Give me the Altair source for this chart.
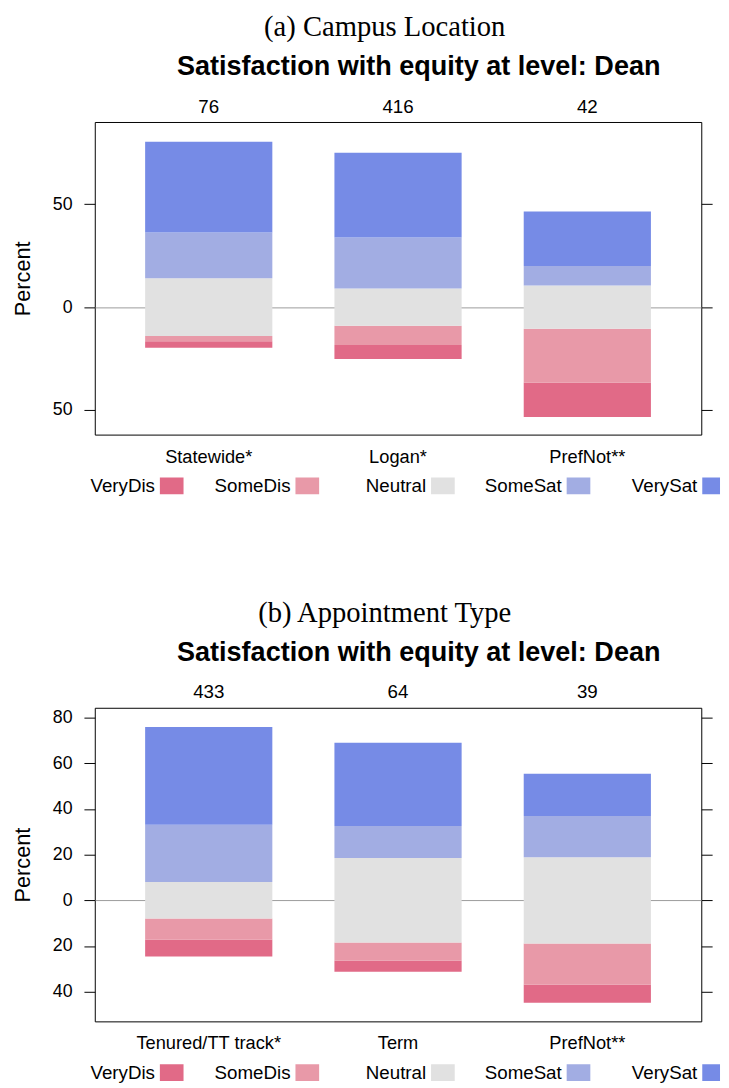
import altair as alt
import pandas as pd

levels = ["VeryDis", "SomeDis", "Neutral", "SomeSat", "VerySat"]
level_colors = ["#E16A87", "#E899A8", "#E1E1E1", "#A2ADE3", "#768BE6"]

main_title = "Satisfaction with equity at level: Dean"

# Panel (a): campus location
campus_groups = ["Statewide*", "Logan*", "PrefNot**"]
campus_n = [76, 416, 42]
campus_verydis = [3.2, 6.8, 16.7]
campus_somedis = [2.6, 9.3, 26.2]
campus_neutral = [28.0, 18.2, 21.0]
campus_somesat = [22.3, 24.8, 9.5]
campus_verysat = [44.1, 41.2, 26.5]
campus_yticks = [-50, 0, 50]
campus_ydomain = [-62, 90]

# Panel (b): appointment type
appt_groups = ["Tenured/TT track*", "Term", "PrefNot**"]
appt_n = [433, 64, 39]
appt_verydis = [7.4, 5.0, 7.9]
appt_somedis = [9.2, 7.8, 18.0]
appt_neutral = [16.0, 37.0, 37.8]
appt_somesat = [25.1, 14.0, 18.0]
appt_verysat = [42.8, 36.5, 18.5]
appt_yticks = [-40, -20, 0, 20, 40, 60, 80]
appt_ydomain = [-53, 84.3]

SANS = "Liberation Sans"
SERIF = "Liberation Serif"


def make_panel(letter_title, groups, ns, series, yticks, ydomain, height):
    rows = []
    for i, g in enumerate(groups):
        seg = [s[i] for s in series]
        start = -(seg[0] + seg[1] + seg[2] / 2.0)
        for lev, v in zip(levels, seg):
            rows.append({"group": g, "level": lev, "lo": start, "hi": start + v})
            start += v
    df = pd.DataFrame(rows)

    xscale = alt.Scale(domain=groups, paddingInner=0.328, paddingOuter=0.266)
    yscale = alt.Scale(domain=ydomain, nice=False, zero=False)
    color = alt.Color("level:N", scale=alt.Scale(domain=levels, range=level_colors), legend=None)

    count_map = "{" + ",".join("'%s':'%d'" % (g, n) for g, n in zip(groups, ns)) + "}"

    left_axis = alt.Axis(
        orient="left", values=yticks, labelExpr="abs(datum.value)", title="Percent",
        titleFont=SANS, titleFontSize=22, titleFontWeight="normal", titleColor="black",
        titlePadding=18, labelFont=SANS, labelFontSize=18, labelColor="black",
        labelPadding=12, tickSize=11, tickColor="black", tickWidth=1,
        domain=False, grid=True, gridWidth=1,
        gridColor={"condition": {"test": "datum.value === 0", "value": "#9A9A9A"}, "value": "transparent"},
    )
    right_axis = alt.Axis(
        orient="right", values=yticks, labels=False, title=None, tickSize=11,
        tickColor="black", tickWidth=1, domain=False, grid=False,
    )
    bottom_axis = alt.Axis(
        orient="bottom", labelAngle=0, ticks=False, tickSize=0, domain=False, title=None,
        labelFont=SANS, labelFontSize=18.5, labelColor="black", labelPadding=13, grid=False,
    )
    top_axis = alt.Axis(
        orient="top", labelAngle=0, ticks=False, tickSize=0, domain=False, title=None,
        labelExpr=count_map + "[datum.value]",
        labelFont=SANS, labelFontSize=19, labelColor="black", labelPadding=6, grid=False,
    )

    bars = alt.Chart(df).mark_bar(opacity=1).encode(
        x=alt.X("group:N", scale=xscale, axis=bottom_axis, sort=groups),
        y=alt.Y("lo:Q", scale=yscale, axis=left_axis),
        y2="hi:Q",
        color=color,
    )
    ghost = alt.Chart(df).mark_bar(opacity=0).encode(
        x=alt.X("group:N", scale=xscale, axis=top_axis, sort=groups),
        y=alt.Y("lo:Q", scale=yscale, axis=right_axis),
        y2="hi:Q",
    )
    main = alt.layer(bars, ghost).properties(
        width=615, height=height,
        title=alt.TitleParams(
            main_title, font=SANS, fontSize=27.4, fontWeight="bold", color="black",
            anchor="middle", frame="group", offset=17, dx=21,
        ),
    )

    leg_df = pd.DataFrame({"level": levels})
    leg_x = alt.X("level:N", scale=alt.Scale(domain=levels, range=[78, 628], padding=0), axis=None)
    leg_sq = alt.Chart(leg_df).mark_point(
        shape="M-1.2,-0.85H1.2V0.85H-1.2Z", size=400, filled=True, opacity=1, strokeWidth=0,
        clip=True,
    ).encode(x=leg_x, color=color)
    leg_tx = alt.Chart(leg_df).mark_text(
        align="right", baseline="middle", dx=-17, font=SANS, fontSize=19, color="black"
    ).encode(x=leg_x, text="level:N")
    legend = alt.layer(leg_sq, leg_tx).properties(
        width=634, height=20, view=alt.ViewBackground(stroke="transparent")
    )

    return alt.vconcat(main, legend, spacing=9).properties(
        title=alt.TitleParams(
            letter_title, font=SERIF, fontSize=29, fontWeight="normal", color="black",
            anchor="middle", offset=11, dx=19,
        )
    )


panel_a = make_panel(
    "(a) Campus Location", campus_groups, campus_n,
    [campus_verydis, campus_somedis, campus_neutral, campus_somesat, campus_verysat],
    campus_yticks, campus_ydomain, 317,
)
panel_b = make_panel(
    "(b) Appointment Type", appt_groups, appt_n,
    [appt_verydis, appt_somedis, appt_neutral, appt_somesat, appt_verysat],
    appt_yticks, appt_ydomain, 318,
)

chart = alt.vconcat(panel_a, panel_b, spacing=104).properties(
    padding={"left": 3, "top": -2, "right": 0, "bottom": 0}
).configure_view(stroke="black", strokeWidth=1)

chart.save("out.html", embed_options={"renderer": "svg", "actions": False})
